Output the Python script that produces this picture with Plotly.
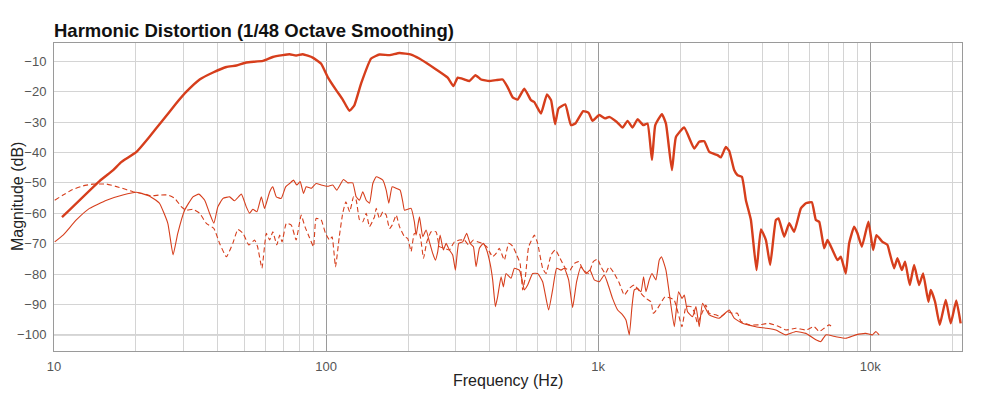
import plotly.graph_objects as go

# Fundamental (thick line): (frequency Hz, magnitude dB)
fundamental = [
    (10.7, -61.3), (14.7, -49.4), (16.5, -45.8), (17.7, -43.1), (20.1, -39.8), (22.4, -34.9),
    (25.1, -29.4), (28.1, -23.9), (30.6, -20.1), (34.3, -16.0), (38.4, -13.7), (43.0, -11.9),
    (46.8, -11.4), (50.9, -10.4), (58.6, -9.9), (63.7, -8.6), (69.3, -8.0), (73.4, -7.7),
    (77.6, -8.1), (82.1, -7.7), (89.3, -8.8), (95.9, -10.8), (101.4, -15.2), (108.9, -19.5),
    (115.1, -22.6), (121.8, -26.3), (127.0, -24.5), (134.5, -17.3), (146.4, -9.1), (157.1, -7.8),
    (170.9, -8.0), (186.1, -7.3), (205.3, -7.8), (220, -9.1), (253.7, -12.7), (279.8, -15.4),
    (293.6, -18.2), (304.6, -15.4), (322.3, -16.0), (336.2, -16.5), (353.9, -14.6), (371.2, -16.0),
    (398, -16.5), (421.4, -16.2), (445.7, -16.0), (464, -18.4), (485, -21.9), (505.8, -22.6),
    (535, -19.0), (566, -22.8), (582, -23.4), (616, -27.2), (648, -20.9), (671, -22.8),
    (694, -30.7), (715, -25.5), (757, -24.2), (794, -31.0), (824, -30.5), (881, -26.4),
    (922, -27.0), (953, -29.6), (1009, -27.7), (1061, -28.8), (1098, -28.3), (1168, -29.9),
    (1229, -31.8), (1282, -29.6), (1337, -31.8), (1395, -29.1), (1464, -31.0), (1518, -30.5),
    (1576, -42.5), (1621, -31.0), (1715, -27.4), (1774, -30.5), (1866, -45.8), (1931, -34.9),
    (2070, -31.8), (2253, -38.7), (2350, -36.5), (2454, -36.3), (2560, -39.8), (2745, -40.9),
    (2825, -41.6), (2945, -38.2), (3031, -39.5), (3160, -45.8), (3252, -47.5), (3374, -48.0),
    (3490, -55.7), (3641, -62.2), (3818, -78.7), (3963, -65.3), (4134, -68.8), (4286, -77.0),
    (4499, -62.2), (4600, -61.7), (4826, -67.7), (5035, -63.3), (5250, -66.1), (5557, -58.4),
    (5798, -56.7), (6098, -56.4), (6309, -62.2), (6489, -62.8), (6767, -71.5), (6964, -68.8),
    (7263, -72.1), (7575, -75.4), (7791, -74.3), (8127, -79.8), (8360, -69.9), (8720, -64.4),
    (8969, -66.6), (9309, -71.0), (9843, -62.8), (10243, -72.1), (10531, -67.2), (11080, -69.4),
    (11560, -70.4), (11795, -73.2), (12230, -78.1), (12580, -74.8), (13053, -78.7), (13420, -75.9),
    (13965, -83.6), (14490, -77.0), (15110, -83.6), (15630, -79.8), (16350, -89.1), (16680, -85.2),
    (17300, -89.1), (17995, -96.7), (18935, -88.5), (19750, -96.2), (20700, -88.7), (21480, -96.2),
]

# 2nd harmonic (thin solid line)
second_harmonic = [
    (10.06, -69.4), (10.8, -67.2), (12.08, -62.2), (13.5, -58.4), (15.6, -55.7), (17.9, -54.0),
    (20.1, -53.1), (22.4, -54.3), (24.4, -56.7), (26.2, -63.3), (27.4, -73.7), (28.5, -66.6),
    (30.2, -59.0), (32.4, -54.6), (34.1, -53.7), (35.8, -55.7), (37.3, -60.0), (38.7, -63.3),
    (40.0, -57.9), (41.8, -55.1), (44.2, -54.6), (46.1, -55.9), (48.8, -53.7), (50.9, -57.9),
    (52.3, -60.0), (53.8, -58.7), (55.7, -59.5), (57.8, -54.6), (59.4, -58.4), (62.0, -53.0),
    (63.7, -51.3), (65.6, -54.6), (68.4, -55.1), (71.0, -51.3), (73.4, -50.2), (75.9, -49.1),
    (78.0, -50.7), (80.3, -49.6), (82.6, -53.5), (84.5, -51.3), (88.2, -51.8), (91.9, -50.2),
    (95.9, -50.7), (101.4, -51.1), (105.8, -50.7), (109.4, -52.4), (115.8, -48.9), (120.2, -50.0),
    (125.3, -50.0), (129.0, -54.6), (132.7, -55.7), (136.4, -52.9), (140.4, -55.7), (144.4, -56.7),
    (148.5, -50.2), (152.8, -48.0), (161.6, -49.1), (166.3, -52.4), (170.0, -56.7), (174.9, -51.3),
    (180.9, -51.8), (187.1, -52.4), (191.3, -56.2), (194.1, -59.0), (199.5, -58.7), (205.3, -58.4),
    (211.1, -62.8), (214.2, -67.2), (220.3, -61.2), (226.5, -67.7), (233.1, -65.5), (239.7, -69.4),
    (246.5, -73.2), (252.2, -75.4), (257.2, -72.6), (262.4, -67.2), (269.8, -72.1), (276.1, -69.9),
    (283.9, -72.1), (291.9, -73.7), (298.7, -78.7), (307.1, -69.9), (317.7, -69.4), (328.6, -66.6),
    (338.2, -69.9), (347.8, -71.0), (355.8, -77.6), (365.9, -71.5), (378.4, -69.9), (389.1, -72.1),
    (400.5, -76.5), (409.4, -81.9), (418.9, -90.7), (427.1, -87.4), (439.5, -80.9), (448.2, -84.2),
    (458.5, -79.8), (478.3, -81.4), (492, -78.1), (513.2, -78.7), (525.2, -81.9), (535.4, -85.2),
    (550.5, -83.6), (574.3, -79.8), (599.1, -79.8), (624.9, -82.5), (657.4, -91.8), (680, -85.2),
    (703.5, -78.1), (730.2, -78.7), (750.8, -78.1), (778.6, -81.9), (805.4, -91.0), (833.1, -82.5),
    (864.6, -77.6), (902, -79.8), (933, -78.7), (967.6, -81.9), (1009, -82.5), (1053, -80.3),
    (1083, -83.0), (1129, -88.0), (1179, -91.8), (1229, -93.4), (1265, -95.1), (1301, -100.0),
    (1331, -90.7), (1357, -85.2), (1395, -84.7), (1436, -85.8), (1468, -80.9), (1498, -85.8),
    (1540, -81.9), (1576, -79.8), (1630, -81.9), (1676, -75.4), (1709, -74.3), (1774, -78.7),
    (1825, -86.3), (1904, -97.3), (1974, -85.8), (2032, -88.0), (2072, -86.9), (2130, -92.4),
    (2222, -94.0), (2287, -90.7), (2351, -97.3), (2418, -89.6), (2559, -93.4), (2784, -94.5),
    (3030, -91.8), (3161, -94.5), (3391, -96.2), (3798, -97.3), (4132, -97.8), (4497, -98.4),
    (4894, -100.0), (5325, -98.9), (5797, -99.5), (6308, -101.6), (6580, -102.2), (6864, -100.0),
    (7469, -100.6), (8128, -101.1), (8844, -100.0), (9627, -99.5), (10178, -100.0), (10476, -98.9),
    (10772, -100.0),
]

# 3rd harmonic (thin dashed line)
third_harmonic = [
    (10.06, -55.7), (10.8, -54.0), (11.7, -52.2), (12.8, -51.0), (13.9, -50.4), (15.6, -50.4),
    (17.4, -51.5), (19.5, -52.9), (21.2, -53.5), (22.8, -54.3), (24.4, -54.0), (26.2, -54.0),
    (27.8, -55.1), (29.4, -57.9), (30.6, -59.0), (32.4, -58.7), (34.3, -60.0), (36.3, -63.3),
    (38.7, -65.0), (40.6, -69.9), (43.0, -74.3), (45.4, -69.9), (47.4, -65.3), (49.5, -66.6),
    (52.0, -70.4), (54.6, -68.8), (56.0, -71.0), (58.1, -78.1), (60.3, -66.6), (62.0, -68.8),
    (63.7, -66.1), (65.9, -70.4), (67.5, -67.2), (68.9, -69.4), (71.4, -63.3), (74.5, -63.9),
    (77.6, -68.8), (81.0, -60.6), (83.6, -64.4), (86.6, -67.7), (89.9, -71.0), (91.9, -61.7),
    (95.9, -62.2), (99.5, -66.6), (102.9, -68.8), (105.2, -67.7), (108.3, -77.6), (111.8, -67.7),
    (115.1, -60.0), (118.2, -56.2), (122.1, -59.5), (126.1, -54.6), (129.0, -55.7), (132.7, -62.2),
    (136.4, -62.8), (140.4, -60.0), (144.4, -64.4), (150.6, -61.2), (152.8, -58.4), (157.1, -61.7),
    (161.6, -59.5), (166.3, -60.6), (170.9, -65.0), (174.9, -63.9), (180.9, -60.6), (186.1, -64.4),
    (194.1, -67.7), (199.5, -68.3), (205.3, -72.6), (211.1, -66.6), (220.3, -66.6), (228.0, -74.8),
    (234.5, -69.4), (243.2, -66.1), (253.7, -66.1), (260.9, -71.0), (272.2, -71.5), (283.9, -72.1),
    (296.1, -69.4), (309, -68.8), (322.3, -68.8), (334.2, -70.4), (347.8, -68.8), (360.7, -69.4),
    (374.4, -69.9), (389.1, -71.0), (398, -72.6), (409.4, -74.3), (421.4, -73.2), (433, -71.5),
    (451.9, -75.4), (468.8, -69.9), (484.9, -70.8), (499.0, -73.2), (516.3, -76.5), (527.8, -85.2),
    (540, -80.9), (555.2, -71.0), (582.6, -67.2), (599.1, -69.9), (624.9, -78.1), (643.3, -79.8),
    (671, -73.7), (695.9, -72.0), (724.0, -74.8), (757.3, -78.1), (788, -78.7), (817.1, -76.5),
    (847.3, -75.9), (881.9, -78.7), (921.9, -79.8), (959.4, -75.9), (995, -75.1), (1024, -77.6),
    (1062, -79.8), (1098, -77.6), (1146, -79.8), (1196, -83.0), (1247, -86.9), (1301, -84.7),
    (1357, -83.6), (1436, -86.3), (1498, -88.0), (1563, -89.1), (1594, -92.9), (1653, -91.3),
    (1760, -87.5), (1900, -88.5), (2032, -97.3), (2102, -90.7), (2192, -90.7), (2253, -92.4),
    (2318, -96.2), (2418, -92.4), (2488, -90.2), (2559, -92.9), (2707, -93.4), (2825, -94.0),
    (2987, -92.4), (3116, -92.9), (3250, -92.9), (3345, -95.6), (3588, -96.7), (3905, -96.7),
    (4249, -96.2), (4624, -97.3), (4894, -98.4), (5325, -97.8), (5797, -98.4), (6217, -97.3),
    (6486, -98.9), (6766, -97.8), (7058, -96.7), (7221, -97.3),
]

x_tick_values = [10, 100, 1000, 10000]
x_tick_labels = ["10", "100", "1k", "10k"]
x_minor_values = [m * d for d in (10, 100, 1000, 10000) for m in range(2, 10) if m * d <= 22000]
y_tick_values = [-100, -90, -80, -70, -60, -50, -40, -30, -20, -10]
y_reference_level = -100

LINE = "#d63e1c"

fig = go.Figure()
for data, width, dash in [
    (third_harmonic, 1.1, "5px,3px"),
    (second_harmonic, 1.1, "solid"),
    (fundamental, 2.4, "solid"),
]:
    fx, fy = zip(*data)
    fig.add_trace(go.Scatter(
        x=list(fx), y=list(fy), mode="lines",
        line=dict(color=LINE, width=width, dash=dash, shape="spline", smoothing=0.4),
        showlegend=False, hoverinfo="skip",
    ))

# darker reference gridline at -100 dB
fig.add_hline(y=y_reference_level, line=dict(color="#9a9a9a", width=1), layer="below")

# the page body adds an 8px offset, so margins are shifted accordingly
fig.update_layout(
    width=1000, height=396,
    margin=dict(l=46, r=46, t=35, b=53, autoexpand=False),
    paper_bgcolor="white", plot_bgcolor="white",
    font=dict(family="Liberation Sans, Arial, sans-serif", color="#444"),
    title=dict(
        text="<b>Harmonic Distortion (1/48 Octave Smoothing)</b>",
        font=dict(size=18.5, color="#111"),
        x=46 / 1000, xanchor="left", xref="container",
        y=1 - 23 / 396, yanchor="middle", yref="container",
    ),
    xaxis=dict(
        type="log", range=[1, 4.337], automargin=False,
        tickmode="array", tickvals=x_tick_values, ticktext=x_tick_labels,
        tickfont=dict(size=13, color="#555"), ticklabelstandoff=3,
        showgrid=True, gridcolor="#9a9a9a", gridwidth=1,
        minor=dict(tickmode="array", tickvals=x_minor_values, showgrid=True,
                   gridcolor="#d4d4d4", gridwidth=1, ticks=""),
        showline=True, linecolor="#9a9a9a", linewidth=1, mirror=True,
        ticks="", zeroline=False,
    ),
    yaxis=dict(
        range=[-105.3, -4.0], automargin=False,
        tickmode="array", tickvals=y_tick_values,
        tickfont=dict(size=13, color="#555"), ticklabelstandoff=4,
        showgrid=True, gridcolor="#d4d4d4", gridwidth=1,
        showline=True, linecolor="#9a9a9a", linewidth=1, mirror=True,
        ticks="", zeroline=False,
    ),
    annotations=[
        dict(text="Frequency (Hz)", xref="paper", yref="paper", x=0.5, y=-29 / 308,
             xanchor="center", yanchor="middle", showarrow=False,
             font=dict(size=16, color="#222")),
        dict(text="Magnitude (dB)", xref="paper", yref="paper", x=-37 / 908, y=0.5,
             xanchor="center", yanchor="middle", showarrow=False, textangle=-90,
             font=dict(size=16, color="#222")),
    ],
)

fig.write_html("out.html")
